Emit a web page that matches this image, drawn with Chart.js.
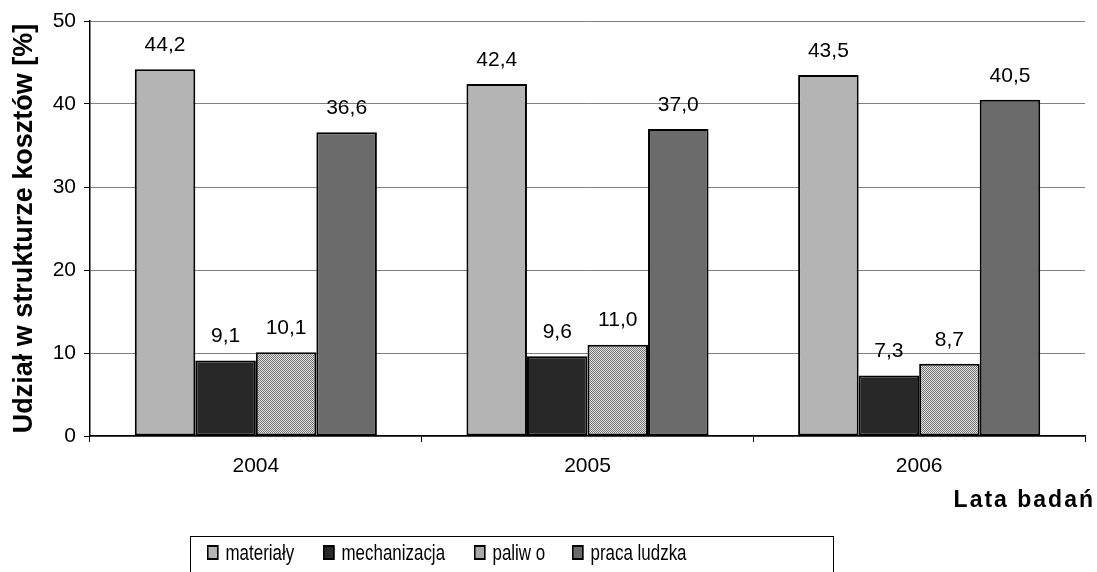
<!DOCTYPE html>
<html lang="pl">
<head>
    <meta charset="UTF-8">
    <title>Udział w strukturze kosztów</title>
    <script src="https://cdn.jsdelivr.net/npm/chart.js"></script>
    <style>
        body {
            margin: 0;
            padding: 0;
            background-color: #fff;
            overflow: hidden;
            font-family: "Liberation Sans", Arial, sans-serif;
        }
        .wrap {
            position: relative;
            width: 1097px;
            height: 572px;
            overflow: hidden;
        }
        .x-title {
            position: absolute;
            right: 2px;
            top: 486px;
            font-size: 23px;
            font-weight: bold;
            letter-spacing: 2px;
            line-height: 26px;
            color: #000;
        }
        .legend {
            position: absolute;
            left: 190px;
            top: 536px;
            width: 644px;
            height: 44px;
            border: 1px solid #000;
            box-sizing: border-box;
            color: #000;
        }
        .legend-item {
            position: absolute;
            top: 3px;
            font-size: 22px;
            white-space: nowrap;
            transform: scaleX(0.77);
            transform-origin: left center;
        }
        .legend-item span.box {
            display: inline-block;
            width: 11px;
            height: 11px;
            border: 2px solid #000;
            margin-right: 9px;
            vertical-align: 0px;
        }
    </style>
</head>
<body>
    <div class="wrap">
        <canvas id="costChart" width="1097" height="572"></canvas>
        <div class="x-title">Lata badań</div>
        <div class="legend" id="legend"></div>
    </div>

    <script>
        // data
        const years = ['2004', '2005', '2006'];
        const seriesNames = ['materiały', 'mechanizacja', 'paliw o', 'praca ludzka'];
        const materialy = [44.2, 42.4, 43.5];
        const mechanizacja = [9.1, 9.6, 7.3];
        const paliwo = [10.1, 11.0, 8.7];
        const pracaLudzka = [36.6, 37.0, 40.5];
        const yTicks = [0, 10, 20, 30, 40, 50];

        const FONT = '"Liberation Sans", Arial, sans-serif';

        // checkered fill used for "paliwo"
        function checkerPattern() {
            const c = document.createElement('canvas');
            c.width = 2;
            c.height = 2;
            const g = c.getContext('2d');
            g.fillStyle = '#e6e6e6';
            g.fillRect(0, 0, 2, 2);
            g.fillStyle = '#707070';
            g.fillRect(0, 0, 1, 1);
            g.fillRect(1, 1, 1, 1);
            return g.createPattern(c, 'repeat');
        }

        const colors = ['#b4b4b4', '#282828', checkerPattern(), '#6b6b6b'];
        const legendColors = ['#b4b4b4', '#282828', '#a8a8a8', '#6b6b6b'];
        const legendLeft = [16, 132, 283, 381];

        // value labels above the bars, decimal comma
        const valueLabels = {
            id: 'valueLabels',
            afterDatasetsDraw(chart) {
                const ctx = chart.ctx;
                ctx.save();
                ctx.font = '21px ' + FONT;
                ctx.fillStyle = '#000';
                ctx.textAlign = 'center';
                ctx.textBaseline = 'middle';
                chart.data.datasets.forEach((ds, i) => {
                    chart.getDatasetMeta(i).data.forEach((bar, j) => {
                        const txt = ds.data[j].toFixed(1).replace('.', ',');
                        ctx.fillText(txt, bar.x, bar.y - 24);
                    });
                });
                ctx.restore();
            }
        };

        const ctx = document.getElementById('costChart').getContext('2d');
        const datasets = [materialy, mechanizacja, paliwo, pracaLudzka].map((vals, i) => ({
            label: seriesNames[i],
            data: vals,
            backgroundColor: colors[i],
            borderColor: '#000',
            borderWidth: 2,
            borderSkipped: false
        }));

        new Chart(ctx, {
            type: 'bar',
            data: { labels: years, datasets: datasets },
            options: {
                responsive: false,
                animation: false,
                layout: { padding: { top: 21, right: 12, left: 0, bottom: 0 } },
                datasets: {
                    bar: { barPercentage: 1, categoryPercentage: 0.73 }
                },
                plugins: {
                    legend: { display: false },
                    tooltip: { enabled: false }
                },
                scales: {
                    x: {
                        offset: true,
                        afterFit(scale) { scale.height = 136; },
                        grid: {
                            offset: true,
                            drawOnChartArea: true,
                            color: c => c.index === years.length ? '#808080' : 'rgba(0,0,0,0)',
                            tickColor: '#000',
                            tickLength: 6
                        },
                        border: { color: '#000', width: 1.5 },
                        ticks: {
                            color: '#000',
                            font: { family: FONT, size: 21 },
                            padding: 12
                        }
                    },
                    y: {
                        min: 0,
                        max: 50,
                        afterFit(scale) { scale.width = 90; },
                        afterBuildTicks(scale) {
                            scale.ticks = yTicks.map(v => ({ value: v }));
                        },
                        grid: {
                            color: '#808080',
                            tickColor: '#000',
                            tickLength: 6
                        },
                        border: { color: '#000', width: 1.5 },
                        ticks: {
                            color: '#000',
                            font: { family: FONT, size: 21 },
                            padding: 8
                        },
                        title: {
                            display: true,
                            text: 'Udział w strukturze kosztów [%]',
                            color: '#000',
                            font: { family: FONT, size: 27, weight: 'bold' },
                            padding: { top: 8, bottom: 0 }
                        }
                    }
                }
            },
            plugins: [valueLabels]
        });

        // legend in a box under the chart
        const legend = document.getElementById('legend');
        seriesNames.forEach((name, i) => {
            const item = document.createElement('div');
            item.className = 'legend-item';
            item.style.left = legendLeft[i] + 'px';
            item.innerHTML = '<span class="box" style="background:' + legendColors[i] + '"></span>' + name;
            legend.appendChild(item);
        });
    </script>
</body>
</html>
